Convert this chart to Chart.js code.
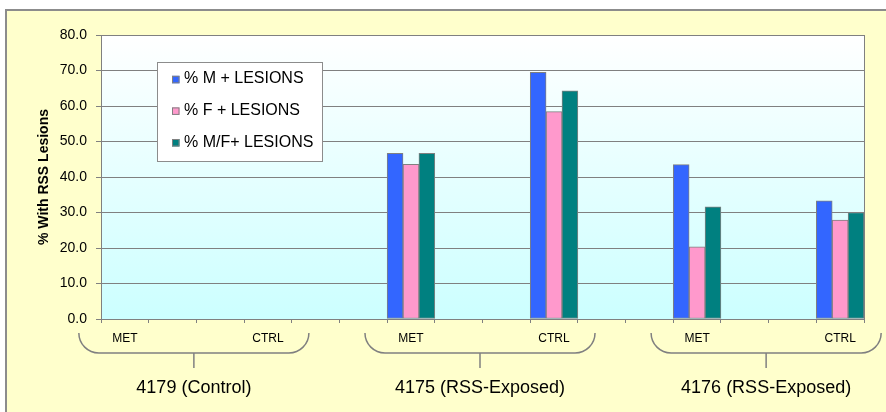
<!DOCTYPE html>
<html><head><meta charset="utf-8">
<script src="https://cdn.jsdelivr.net/npm/chart.js@4/dist/chart.umd.min.js"></script>
<style>html,body{margin:0;padding:0;background:#fff}#wrap{width:886px;height:412px;position:relative}</style>
</head><body><div id="wrap"><canvas id="c" width="886" height="412"></canvas></div>
<script>
const categories = ['MET','','','CTRL','','','MET','','','CTRL','','','MET','','','CTRL'];
const groupLabels = ['4179 (Control)','4175 (RSS-Exposed)','4176 (RSS-Exposed)'];
const seriesNames = ['% M + LESIONS','% F + LESIONS','% M/F+ LESIONS'];
const maleLesions     = [0,null,null,0,null,null,46.7,null,null,69.5,null,null,43.5,null,null,33.3];
const femaleLesions   = [0,null,null,0,null,null,43.6,null,null,58.4,null,null,20.3,null,null,27.9];
const combinedLesions = [0,null,null,0,null,null,46.7,null,null,64.3,null,null,31.6,null,null,30.0];
const yTitle = '% With RSS Lesions';
const yMin = 0, yMax = 80, yStep = 10;

const FONT = 'Arial, "Liberation Sans", sans-serif';
const colors = ['#3366FF','#FF99CC','#008080'];

const decor = {
  id: 'decor',
  beforeDraw(chart) {
    const ctx = chart.ctx, W = chart.width, H = chart.height;
    ctx.save();
    ctx.fillStyle = '#FFFFFF'; ctx.fillRect(0,0,W,H);
    ctx.fillStyle = '#FFFFCC'; ctx.fillRect(6,9,W-6,H-9);
    ctx.strokeStyle = '#8C8C8C'; ctx.lineWidth = 2;
    ctx.beginPath(); ctx.moveTo(6,H); ctx.lineTo(6,10); ctx.lineTo(W,10); ctx.stroke();
    const a = chart.chartArea;
    const g = ctx.createLinearGradient(0,a.top,0,a.bottom);
    g.addColorStop(0,'#FFFFFF'); g.addColorStop(1,'#CCFFFF');
    ctx.fillStyle = g; ctx.fillRect(a.left,a.top,a.right-a.left,a.bottom-a.top);
    ctx.restore();
  },
  afterDraw(chart) {
    const ctx = chart.ctx, a = chart.chartArea, xs = chart.scales.x;
    ctx.save();
    // plot border
    ctx.strokeStyle = '#808080'; ctx.lineWidth = 1;
    ctx.beginPath(); ctx.moveTo(Math.round(a.right)+0.5, a.top); ctx.lineTo(Math.round(a.right)+0.5, a.bottom); ctx.stroke();
    // y title
    ctx.save();
    ctx.translate(44, (a.top+a.bottom)/2);
    ctx.rotate(-Math.PI/2);
    ctx.fillStyle = '#000'; ctx.font = 'bold 14px ' + FONT;
    ctx.textAlign = 'center'; ctx.textBaseline = 'middle';
    ctx.fillText(yTitle, 0, 0);
    ctx.restore();
    // legend
    const lx = 157, ly = 62, lw = 165, lh = 99;
    ctx.fillStyle = '#FFFFFF'; ctx.fillRect(lx, ly, lw, lh);
    ctx.strokeStyle = '#8C8C8C'; ctx.lineWidth = 1;
    ctx.strokeRect(lx+0.5, ly+0.5, lw, lh);
    ctx.font = '16px ' + FONT; ctx.textAlign = 'left'; ctx.textBaseline = 'alphabetic';
    chart.data.datasets.forEach((ds, i) => {
      const base = 83.3 + i*31.6;
      ctx.fillStyle = ds.backgroundColor;
      ctx.fillRect(172, base-7.5, 7.5, 7.5);
      ctx.strokeStyle = '#808080';
      ctx.strokeRect(172.5, base-7, 6.5, 6.5);
      ctx.fillStyle = '#000';
      ctx.fillText(ds.label, 184, base);
    });
    // group braces
    const idx = categories.map((c,i)=>c? i : -1).filter(i=>i>=0);
    ctx.strokeStyle = '#808080'; ctx.lineWidth = 1.5;
    groupLabels.forEach((lab, gi) => {
      const i0 = idx[gi*2], i1 = idx[gi*2+1];
      const x1 = xs.getPixelForValue(i0) - 46, x2 = xs.getPixelForValue(i1) + 41;
      const top = a.bottom + 14, bot = a.bottom + 34, r = 20;
      ctx.beginPath();
      ctx.moveTo(x1, top);
      ctx.arc(x1+r, top, r, Math.PI, Math.PI/2, true);
      ctx.lineTo(x2-r, bot);
      ctx.arc(x2-r, top, r, Math.PI/2, 0, true);
      ctx.stroke();
      const cx = (x1+x2)/2;
      ctx.beginPath(); ctx.moveTo(cx, bot); ctx.lineTo(cx, bot+15); ctx.stroke();
      ctx.fillStyle = '#000'; ctx.font = '18px ' + FONT;
      ctx.textAlign = 'center'; ctx.textBaseline = 'middle';
      ctx.fillText(lab, cx, a.bottom + 69);
    });
    ctx.restore();
  }
};

const seriesData = [maleLesions, femaleLesions, combinedLesions];
new Chart(document.getElementById('c'), {
  type: 'bar',
  data: {
    labels: categories,
    datasets: seriesNames.map((n,i) => ({
      label: n, data: seriesData[i],
      backgroundColor: colors[i], borderColor: '#808080', borderWidth: 1,
      borderSkipped: false, categoryPercentage: 1, barPercentage: 1
    }))
  },
  options: {
    responsive: false, animation: false, devicePixelRatio: 1,
    layout: { padding: { top: 35, right: 22, left: 0, bottom: 0 } },
    plugins: { legend: { display: false }, tooltip: { enabled: false } },
    scales: {
      x: {
        grid: { drawOnChartArea: false, drawTicks: true, tickLength: 4, color: '#808080', offset: true },
        border: { display: true, color: '#808080' },
        ticks: { autoSkip: false, maxRotation: 0, minRotation: 0, padding: 8, color: '#000', font: { family: FONT, size: 12 } },
        afterFit(s) { s.height = 93; }
      },
      y: {
        min: yMin, max: yMax,
        grid: { color: '#808080', tickLength: 5, drawTicks: true },
        border: { display: true, color: '#808080' },
        ticks: { stepSize: yStep, padding: 9, color: '#000', font: { family: FONT, size: 14 }, callback: v => v.toFixed(1) },
        afterFit(s) { s.width = 101; }
      }
    }
  },
  plugins: [decor]
});
</script></body></html>
